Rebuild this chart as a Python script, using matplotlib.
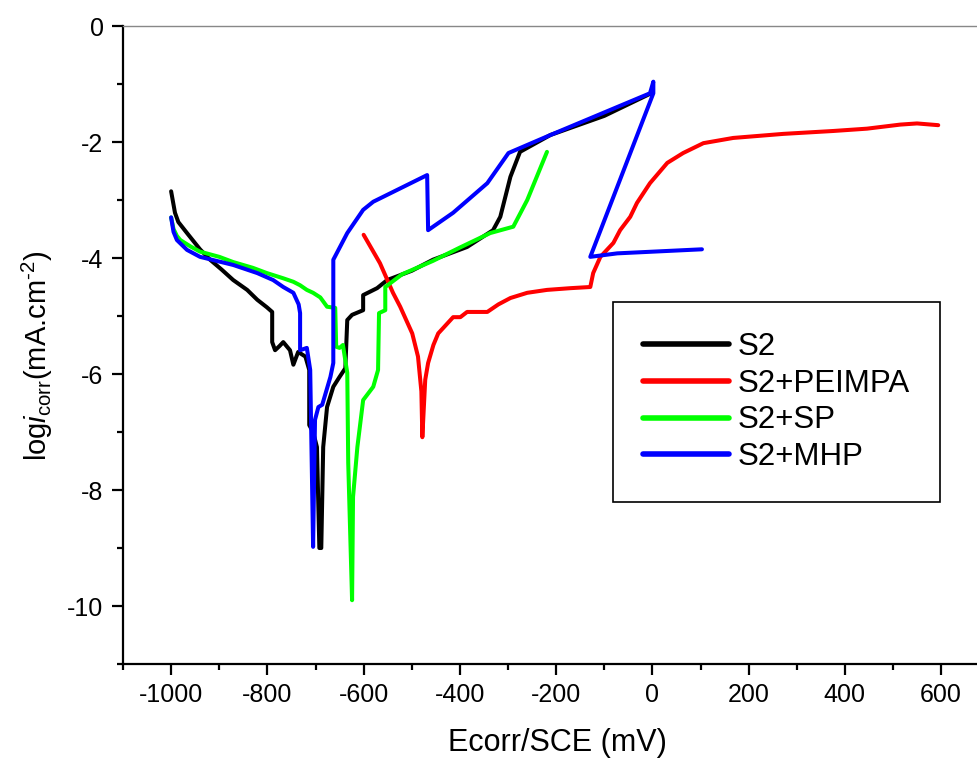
import numpy as np
import matplotlib
matplotlib.use("Agg")
import matplotlib.pyplot as plt
from matplotlib.ticker import MultipleLocator

plt.rcParams['font.family'] = ['Liberation Sans', 'DejaVu Sans']
plt.rcParams['mathtext.fontset'] = 'custom'
plt.rcParams['mathtext.rm'] = 'Liberation Sans'
plt.rcParams['mathtext.it'] = 'Liberation Sans:italic'
plt.rcParams['axes.unicode_minus'] = False

# S2
s2_x = [-1000, -992, -985, -967, -940, -919, -895, -871, -842, -821, -801, -790, -790, -784,
        -775, -767, -753, -746, -736, -721, -713, -713, -705, -697, -692, -688, -684, -676,
        -663, -650, -638, -634, -624, -601, -601, -572, -551, -500, -456, -385, -331, -316,
        -295, -275, -212, -100, 0]
s2_y = [-2.85, -3.22, -3.38, -3.57, -3.85, -4.03, -4.2, -4.38, -4.55, -4.72, -4.85, -4.93, -5.45,
        -5.59, -5.52, -5.45, -5.59, -5.84, -5.62, -5.70, -5.93, -6.88, -7.0, -7.26, -9.0, -9.0,
        -7.26, -6.57, -6.22, -6.05, -5.9, -5.07, -4.98, -4.9, -4.64, -4.52, -4.38, -4.22, -4.03,
        -3.81, -3.52, -3.29, -2.6, -2.17, -1.88, -1.55, -1.15]

# S2+PEIMPA
red_x = [-600, -566, -539, -524, -499, -487, -480, -478, -472, -466, -455, -445, -435, -414,
         -399, -385, -343, -320, -295, -260, -219, -170, -129, -123, -108, -81, -67, -46, -32,
         -5, 31, 64, 106, 168, 272, 376, 446, 515, 550, 594]
red_y = [-3.6, -4.09, -4.6, -4.84, -5.3, -5.7, -6.3, -7.09, -6.1, -5.81, -5.5, -5.3, -5.21, -5.02,
         -5.02, -4.93, -4.93, -4.8, -4.69, -4.6, -4.55, -4.52, -4.5, -4.26, -3.98, -3.74, -3.52,
         -3.29, -3.05, -2.71, -2.36, -2.19, -2.02, -1.93, -1.86, -1.81, -1.77, -1.70, -1.68, -1.71]

# S2+SP
sp_x = [-1000, -995, -988, -981, -960, -940, -900, -871, -830, -801, -767, -746, -732, -718,
        -705, -690, -676, -659, -657, -650, -643, -634, -632, -624, -622, -613, -601, -580,
        -570, -568, -555, -555, -520, -456, -400, -337, -289, -260, -219]
sp_y = [-3.3, -3.5, -3.62, -3.69, -3.8, -3.89, -3.98, -4.07, -4.17, -4.26, -4.35, -4.41, -4.47,
        -4.55, -4.6, -4.68, -4.84, -4.86, -5.53, -5.55, -5.5, -5.98, -7.53, -9.9, -8.12, -7.26,
        -6.45, -6.22, -5.93, -4.95, -4.9, -4.5, -4.28, -4.05, -3.82, -3.57, -3.46, -3.0, -2.17]

# S2+MHP
mhp_x = [-1000, -995, -988, -967, -940, -871, -821, -788, -767, -746, -735, -732, -732, -718,
         -711, -705, -701, -694, -686, -669, -663, -663, -663, -634, -601, -580, -468, -466,
         -414, -343, -299, -212, -5, 2, 2, -129, -73, 103]
mhp_y = [-3.3, -3.55, -3.69, -3.86, -3.98, -4.12, -4.26, -4.38, -4.5, -4.6, -4.8, -4.95, -5.59,
         -5.55, -5.93, -8.98, -6.79, -6.57, -6.53, -6.05, -5.81, -4.17, -4.03, -3.57, -3.17,
         -3.03, -2.57, -3.52, -3.22, -2.71, -2.19, -1.88, -1.16, -0.96, -1.16, -3.98, -3.92, -3.85]

series = [
    ("S2", s2_x, s2_y, "#000000"),
    ("S2+PEIMPA", red_x, red_y, "#ff0000"),
    ("S2+SP", sp_x, sp_y, "#00ff00"),
    ("S2+MHP", mhp_x, mhp_y, "#0000ff"),
]

fig = plt.figure(figsize=(9.77, 7.6), dpi=100)
ax = fig.add_axes([123 / 977, 96 / 760, 854 / 977, 638 / 760])

for name, x, y, c in series:
    ax.plot(x, y, color=c, lw=2.9, label=name, solid_capstyle="round", solid_joinstyle="round")

ax.set_xlim(-1100, -1100 + 854 / 0.48125)
ax.set_ylim(-11, 0)
ax.xaxis.set_major_locator(MultipleLocator(200))
ax.xaxis.set_minor_locator(MultipleLocator(100))
ax.yaxis.set_major_locator(MultipleLocator(2))
ax.yaxis.set_minor_locator(MultipleLocator(1))
ax.tick_params(which="major", direction="out", length=8, width=1.6, labelsize=18, pad=6)
ax.tick_params(which="minor", direction="out", length=4, width=1.6)

ax.spines["right"].set_visible(False)
ax.spines["top"].set_color("#888888")
ax.spines["top"].set_linewidth(1.0)
ax.spines["left"].set_linewidth(1.6)
ax.spines["bottom"].set_linewidth(1.6)

ax.set_xlabel("Ecorr/SCE (mV)", fontsize=22)
ax.set_ylabel(r"log$\mathit{i}_{\mathrm{corr}}$(mA.cm$^{\text{-2}}$)", fontsize=21)
ax.xaxis.set_label_coords(0.509, -0.1)
ax.yaxis.set_label_coords(-0.08, 0.484)

leg = ax.legend(loc="upper left", bbox_to_anchor=((613 - 123) / 854, (664 - 302) / 638),
                borderaxespad=0, fontsize=22.5, frameon=True, fancybox=False,
                edgecolor="black", framealpha=1, handlelength=2.75, handletextpad=0.3,
                labelspacing=0.22, borderpad=0.95)
leg.get_frame().set_linewidth(1.2)
for line in leg.get_lines():
    line.set_linewidth(4)

plt.savefig("out.png", dpi=100)
